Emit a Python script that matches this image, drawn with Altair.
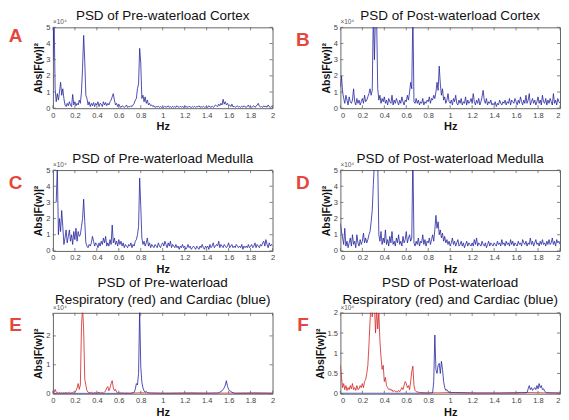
import altair as alt
import pandas as pd

# ---------------- data (PSD values in units of 1e4) ----------------
FREQ = [round(i * 0.01, 2) for i in range(201)]
XTICKS = [0, 0.2, 0.4, 0.6, 0.8, 1.0, 1.2, 1.4, 1.6, 1.8, 2.0]
YTICKS_5 = [0, 1, 2, 3, 4, 5]
YTICKS_E = [0, 1, 2]
YTICKS_F = [0, 0.5, 1, 1.5, 2]

PRE_CORTEX = [
    3.0, 6.0, 1.2, 0.4, 0.9, 0.5, 1.0, 1.6, 0.8, 1.2,
    0.6, 0.2, 0.1, 0.3, 0.15, 0.4, 0.2, 0.1, 0.85, 0.2,
    0.4, 0.15, 0.3, 0.2, 0.5, 0.3, 1.0, 2.5, 4.5, 2.9,
    0.8, 0.6, 0.2, 0.4, 0.1, 0.3, 0.15, 0.35, 0.1, 0.3,
    0.2, 0.4, 0.1, 0.3, 0.25, 0.1, 0.4, 0.2, 0.35, 0.15,
    0.3, 0.2, 0.4, 0.5, 0.7, 0.9, 0.5, 0.2, 0.3, 0.1,
    0.25, 0.1, 0.05, 0.15, 0.1, 0.05, 0.1, 0.2, 0.05, 0.1,
    0.08, 0.15, 0.1, 0.2, 0.3, 0.5, 0.6, 1.2, 1.5, 3.7,
    2.8, 0.6, 0.8, 0.4, 0.7, 0.3, 0.5, 0.2, 0.3, 0.15,
    0.2, 0.1, 0.15, 0.05, 0.1, 0.08, 0.12, 0.05, 0.1, 0.06,
    0.1, 0.05, 0.12, 0.06, 0.08, 0.15, 0.05, 0.1, 0.04, 0.12,
    0.06, 0.1, 0.05, 0.15, 0.08, 0.05, 0.12, 0.06, 0.1, 0.05,
    0.15, 0.06, 0.1, 0.05, 0.12, 0.08, 0.04, 0.1, 0.06, 0.12,
    0.05, 0.1, 0.08, 0.15, 0.05, 0.1, 0.06, 0.12, 0.05, 0.08,
    0.1, 0.05, 0.15, 0.08, 0.06, 0.12, 0.05, 0.1, 0.2, 0.15,
    0.1, 0.25, 0.15, 0.3, 0.2, 0.55, 0.25, 0.4, 0.2, 0.3,
    0.15, 0.2, 0.1, 0.25, 0.08, 0.12, 0.05, 0.1, 0.15, 0.06,
    0.1, 0.05, 0.12, 0.06, 0.15, 0.08, 0.05, 0.1, 0.2, 0.06,
    0.12, 0.05, 0.1, 0.15, 0.06, 0.1, 0.2, 0.3, 0.12, 0.08,
    0.1, 0.05, 0.15, 0.08, 0.12, 0.06, 0.2, 0.1, 0.05, 0.12,
    0.08,
]

POST_CORTEX = [
    1.3, 2.0, 1.0, 0.6, 0.3, 0.8, 0.5, 0.2, 0.7, 0.4,
    0.3, 0.5, 1.2, 0.4, 0.2, 0.6, 0.3, 0.5, 0.2, 0.4,
    0.6, 0.3, 0.8, 0.4, 0.5, 0.7, 0.9, 1.2, 0.8, 1.1,
    6.0, 3.0, 6.0, 5.5, 1.2, 0.5, 0.8, 0.3, 0.6, 0.4,
    0.7, 0.3, 0.5, 0.2, 0.6, 0.4, 0.3, 0.8, 0.2, 0.5,
    0.3, 0.6, 0.4, 0.2, 0.5, 0.3, 0.7, 0.4, 0.2, 0.5,
    0.4, 0.8, 0.5, 1.0, 1.6, 1.2, 6.0, 0.4, 0.3, 0.6,
    0.3, 0.5, 0.2, 0.4, 0.3, 0.6, 0.2, 0.4, 0.3, 0.5,
    0.4, 0.7, 0.3, 0.6, 0.5, 0.8, 0.6, 1.0, 1.6, 1.1,
    2.6, 1.5, 0.8, 1.2, 0.5, 0.7, 0.3, 0.5, 0.9, 0.4,
    0.3, 0.5, 0.2, 0.6, 0.4, 0.8, 0.3, 0.2, 0.5, 0.3,
    0.6, 0.2, 0.4, 0.3, 0.7, 0.2, 0.5, 0.3, 0.4, 0.6,
    0.3, 0.9, 0.4, 0.2, 0.5, 0.3, 0.6, 0.2, 0.4, 0.7,
    1.1, 0.5, 0.3, 0.6, 0.2, 0.4, 0.3, 0.5, 0.2, 0.3,
    0.2, 0.4, 0.1, 0.3, 0.2, 0.5, 0.3, 0.2, 0.4, 0.3,
    0.5, 0.2, 0.4, 0.3, 0.6, 0.2, 0.5, 0.4, 0.3, 0.6,
    0.4, 0.2, 0.5, 0.3, 0.7, 0.4, 0.2, 0.5, 0.3, 0.8,
    0.3, 0.5, 0.9, 0.2, 0.4, 0.6, 0.3, 0.5, 0.2, 0.4,
    0.7, 0.3, 0.5, 0.2, 0.8, 0.4, 0.3, 0.6, 0.2, 0.5,
    0.3, 0.6, 0.4, 0.2, 0.9, 0.3, 0.5, 0.2, 0.6, 0.4,
    0.3,
]

PRE_MEDULLA = [
    None, None, None, 3.0, 5.2, 1.0, 2.0, 1.2, 2.5, 1.5,
    0.4, 0.8, 1.3, 0.5, 0.9, 1.3, 0.6, 1.0, 0.4, 1.2,
    0.7, 1.4, 0.6, 1.2, 0.9, 1.0, 1.5, 2.0, 3.2, 1.8,
    0.5, 0.3, 0.2, 0.4, 0.3, 0.5, 0.9, 0.6, 0.3, 0.5,
    0.4, 0.2, 0.5, 0.3, 0.6, 0.4, 0.8, 0.5, 0.9, 0.3,
    0.5, 0.3, 0.7, 0.4, 1.6, 0.5, 0.8, 0.4, 0.6, 0.3,
    0.7, 0.4, 0.6, 0.3, 0.5, 0.2, 0.4, 0.3, 0.2, 0.4,
    0.3, 0.5, 0.2, 0.4, 0.3, 0.6, 0.7, 1.0, 1.5, 4.5,
    2.8, 0.8, 0.4, 0.6, 0.3, 0.5, 0.8, 0.3, 0.5, 0.2,
    0.4, 0.3, 0.2, 0.4, 0.3, 0.2, 0.5, 0.3, 0.2, 0.4,
    0.5, 0.3, 0.6, 0.4, 0.2, 0.5, 0.3, 0.6, 0.2, 0.4,
    0.3, 0.2, 0.4, 0.2, 0.3, 0.1, 0.3, 0.2, 0.4, 0.2,
    0.3, 0.1, 0.2, 0.4, 0.2, 0.3, 0.1, 0.2, 0.3, 0.2,
    0.1, 0.3, 0.2, 0.1, 0.3, 0.2, 0.4, 0.2, 0.1, 0.3,
    0.2, 0.3, 0.1, 0.4, 0.2, 0.3, 0.5, 0.2, 0.3, 0.4,
    0.3, 0.6, 0.2, 0.4, 0.3, 0.2, 0.4, 0.3, 0.2, 0.3,
    0.5, 0.2, 0.3, 0.4, 0.2, 0.3, 0.2, 0.4, 0.3, 0.2,
    0.3, 0.2, 0.4, 0.1, 0.3, 0.2, 0.3, 0.2, 0.4, 0.2,
    0.3, 0.4, 0.2, 0.3, 0.5, 0.2, 0.4, 0.3, 0.2, 0.4,
    0.3, 0.5, 0.6, 0.3, 0.7, 0.4, 0.2, 0.5, 0.3, 0.4,
    0.3,
]

POST_MEDULLA = [
    1.7, 1.2, 0.8, 0.4, 1.4, 0.3, 0.6, 0.2, 0.5, 0.8,
    0.3, 1.0, 0.4, 0.6, 0.2, 1.0, 0.5, 0.3, 0.7, 0.4,
    0.6, 1.1, 0.5, 0.8, 0.5, 0.7, 1.0, 1.2, 1.8, 2.5,
    4.1, 5.5, 6.0, 6.0, 5.5, 1.0, 0.6, 1.2, 0.4, 0.8,
    0.5, 1.3, 0.4, 0.7, 0.3, 0.9, 0.5, 1.2, 0.4, 0.6,
    0.3, 0.8, 0.5, 1.0, 0.4, 0.6, 0.3, 0.9, 0.5, 0.7,
    1.2, 0.5, 0.8, 1.0, 0.6, 0.8, 6.0, 0.5, 0.3, 0.6,
    0.4, 0.8, 0.3, 0.6, 0.5, 1.0, 0.4, 0.7, 0.3, 0.6,
    0.5, 0.8, 0.4, 0.7, 1.0, 0.6, 1.3, 2.2, 1.4, 1.8,
    1.0, 1.3, 0.8, 1.1, 0.6, 0.9, 0.5, 0.7, 0.4, 0.6,
    0.3, 0.5, 0.8, 0.4, 0.6, 0.3, 0.5, 0.7, 0.3, 0.4,
    0.6, 0.3, 0.5, 0.2, 0.4, 0.6, 0.3, 0.5, 0.4, 0.3,
    0.5, 0.3, 0.7, 0.4, 0.8, 0.3, 0.5, 0.4, 0.3, 0.6,
    0.4, 0.3, 0.5, 0.2, 0.4, 0.6, 0.3, 0.5, 0.4, 0.3,
    0.5, 0.4, 0.3, 0.6, 0.4, 0.5, 0.3, 0.7, 0.4, 0.5,
    0.3, 0.6, 0.4, 0.5, 0.3, 0.7, 0.4, 0.6, 0.3, 0.5,
    0.4, 0.3, 0.6, 0.4, 0.5, 0.3, 0.7, 0.5, 0.4, 0.6,
    0.3, 0.5, 0.4, 0.8, 0.4, 0.6, 0.3, 0.5, 0.7, 0.4,
    0.5, 0.3, 0.6, 0.4, 0.7, 0.4, 0.5, 0.3, 0.6, 0.4,
    0.7, 0.4, 0.5, 0.8, 0.4, 0.6, 0.3, 0.7, 0.5, 0.6,
    0.4,
]

# Pre-waterload respiratory (red) and cardiac (blue)
PRE_RESP_F = FREQ[:70] + [0.72, 0.80, 0.90, 1.05, 1.25, 1.45, 1.65, 1.85, 2.0]
PRE_RESP = [
    0.05, 0.03, 0.15, 0.05, 0.03, 0.02, 0.04, 0.02, 0.03, 0.02,
    0.03, 0.02, 0.04, 0.02, 0.03, 0.05, 0.02, 0.03, 0.04, 0.06,
    0.05, 0.1, 0.2, 0.35, 0.15, 0.3, 2.3, 3.0, 2.2, 0.5,
    0.3, 0.1, 0.05, 0.04, 0.03, 0.05, 0.03, 0.02, 0.04, 0.03,
    0.02, 0.03, 0.05, 0.02, 0.03, 0.04, 0.02, 0.05, 0.1, 0.2,
    0.25, 0.1, 0.2, 0.35, 0.45, 0.2, 0.1, 0.15, 0.05, 0.03,
    0.04, 0.02, 0.03, 0.02, 0.03, 0.02, 0.02, 0.03, 0.02, 0.02,
    0.02, 0.03, 0.02, 0.02, 0.03, 0.02, 0.02, 0.03, 0.02,
]
PRE_CARD_F = [
    0.0, 0.3, 0.6,
    0.70, 0.71, 0.72, 0.73, 0.74, 0.75, 0.76, 0.77, 0.78, 0.79,
    0.80, 0.81, 0.82, 0.83, 0.84, 0.85, 0.86, 0.87, 0.88, 0.89,
    1.0, 1.2, 1.4,
    1.48, 1.49, 1.50, 1.51, 1.52, 1.53, 1.54, 1.55, 1.56, 1.57,
    1.58, 1.59, 1.60, 1.61, 1.62, 1.63, 1.64, 1.65, 1.66,
    1.8, 2.0,
]
PRE_CARD = [
    0.01, 0.01, 0.01,
    0.01, 0.01, 0.02, 0.03, 0.05, 0.15, 0.35, 0.3, 0.7, 2.9,
    0.95, 0.4, 0.2, 0.1, 0.05, 0.08, 0.04, 0.03, 0.02, 0.02,
    0.01, 0.01, 0.01,
    0.02, 0.02, 0.02, 0.03, 0.05, 0.08, 0.1, 0.15, 0.2, 0.3,
    0.45, 0.25, 0.15, 0.1, 0.08, 0.05, 0.03, 0.02, 0.01,
    0.01, 0.01,
]

# Post-waterload respiratory (red) and cardiac (blue)
POST_RESP_F = FREQ[:70] + [0.72, 0.80, 0.90, 1.05, 1.25, 1.45, 1.65, 1.85, 2.0]
POST_RESP = [
    0.7, 0.4, 0.15, 0.25, 0.1, 0.2, 0.08, 0.15, 0.1, 0.2,
    0.12, 0.25, 0.1, 0.15, 0.08, 0.2, 0.1, 0.12, 0.2, 0.15,
    0.25, 0.15, 0.3, 0.35, 0.5, 0.7, 1.2, 1.8, 2.3, 1.9,
    2.3, 2.2, 1.5, 2.1, 1.6, 2.0, 1.3, 0.9, 0.6, 0.7,
    0.3, 0.4, 0.2, 0.15, 0.1, 0.12, 0.08, 0.1, 0.05, 0.08,
    0.05, 0.06, 0.04, 0.08, 0.05, 0.1, 0.15, 0.1, 0.2, 0.3,
    0.25, 0.15, 0.2, 0.1, 0.3, 0.55, 0.68, 0.2, 0.08, 0.05,
    0.03, 0.02, 0.02, 0.03, 0.02, 0.02, 0.03, 0.02, 0.02,
]
POST_CARD_F = [
    0.0, 0.4, 0.8,
    0.84, 0.85, 0.86, 0.87, 0.88, 0.89, 0.90, 0.91, 0.92, 0.93,
    0.94, 0.95, 0.96, 0.97, 0.98, 0.99, 1.00,
    1.2, 1.4, 1.6,
    1.69, 1.70, 1.71, 1.72, 1.73, 1.74, 1.75, 1.76, 1.77, 1.78,
    1.79, 1.80, 1.81, 1.82, 1.83, 1.84, 1.85, 1.86, 1.87, 1.88,
    2.0,
]
POST_CARD = [
    0.01, 0.01, 0.01,
    0.02, 0.3, 1.45, 0.6, 0.5, 0.7, 0.75, 0.5, 0.8, 0.6,
    0.3, 0.15, 0.08, 0.1, 0.05, 0.04, 0.02,
    0.01, 0.01, 0.01,
    0.02, 0.03, 0.12, 0.2, 0.1, 0.15, 0.08, 0.12, 0.15, 0.1,
    0.2, 0.12, 0.25, 0.15, 0.2, 0.1, 0.12, 0.06, 0.04, 0.02,
    0.01,
]

# ---------------- styling ----------------
W, H = 220, 81
BLUE = "#2424a0"
RED = "#d42222"
LETTER_RED = "#e5473d"
FRAME = "#666666"
FONT = "Liberation Sans"


def panel(series, title, letter, ymax, yticks, letter_xy, title_offset, flush_x):
    xenc = alt.X(
        "f:Q",
        scale=alt.Scale(domain=[0, 2], nice=False, zero=False),
        axis=alt.Axis(values=XTICKS, format=".1~f", title="Hz", ticks=False,
                      domain=False, grid=False, labelFontSize=7.5,
                      labelColor="#444", labelPadding=3, labelFont=FONT,
                      titleFont=FONT, titleFontSize=11, titleFontWeight="bold",
                      titleColor="#111", titlePadding=2, labelFlush=flush_x),
    )
    yenc = alt.Y(
        "p:Q",
        scale=alt.Scale(domain=[0, ymax], nice=False, zero=True),
        axis=alt.Axis(values=yticks, format=".1~f", title="Abs|F(w)|²",
                      ticks=False, domain=False, grid=False, labelFontSize=7.5,
                      labelColor="#444", labelPadding=3, labelFont=FONT,
                      titleFont=FONT, titleFontSize=10.5, titleFontWeight="bold",
                      titleColor="#111", titlePadding=2, labelFlush=False),
    )
    layers = []
    for fr, vals, col in series:
        df = pd.DataFrame({"f": fr, "p": vals})
        layers.append(
            alt.Chart(df).mark_line(color=col, strokeWidth=0.8, clip=True)
            .encode(x=xenc, y=yenc)
        )
    xt = pd.DataFrame({"f": XTICKS})
    yt = pd.DataFrame({"p": yticks})
    layers.append(alt.Chart(xt).mark_rule(color=FRAME, strokeWidth=0.8)
                  .encode(x=xenc, y=alt.value(H), y2=alt.value(H - 3)))
    layers.append(alt.Chart(xt).mark_rule(color=FRAME, strokeWidth=0.8)
                  .encode(x=xenc, y=alt.value(0), y2=alt.value(3)))
    layers.append(alt.Chart(yt).mark_rule(color=FRAME, strokeWidth=0.8)
                  .encode(y=yenc, x=alt.value(0), x2=alt.value(3)))
    layers.append(alt.Chart(yt).mark_rule(color=FRAME, strokeWidth=0.8)
                  .encode(y=yenc, x=alt.value(W), x2=alt.value(W - 3)))
    layers.append(
        alt.Chart(pd.DataFrame({"t": [letter]}))
        .mark_text(font=FONT, fontSize=19, fontWeight="bold", color=LETTER_RED,
                   align="center", baseline="middle")
        .encode(text="t:N", x=alt.value(letter_xy[0]), y=alt.value(letter_xy[1]))
    )
    layers.append(
        alt.Chart(pd.DataFrame({"t": ["×10⁴"]}))
        .mark_text(font=FONT, fontSize=6.5, color="#555", align="left",
                   baseline="alphabetic")
        .encode(text="t:N", x=alt.value(0), y=alt.value(-3))
    )
    tp = dict(font=FONT, fontSize=13.5, fontWeight="normal", color="#111",
              anchor="middle", offset=title_offset, frame="group")
    if isinstance(title, list):
        tp["lineHeight"] = 17
    return alt.layer(*layers).properties(
        width=W, height=H, title=alt.TitleParams(title, **tp),
    )


pA = panel([(FREQ, PRE_CORTEX, BLUE)], "PSD of Pre-waterload Cortex", "A", 5, YTICKS_5, (-37.5, 9), -3, False)
pB = panel([(FREQ, POST_CORTEX, BLUE)], "PSD of Post-waterload Cortex", "B", 5, YTICKS_5, (-37.5, 13), -3, True)
pC = panel([(FREQ, PRE_MEDULLA, BLUE)], "PSD of Pre-waterload Medulla", "C", 5, YTICKS_5, (-37.5, 13), -3, False)
pD = panel([(FREQ, POST_MEDULLA, BLUE)], "PSD of Post-waterload Medulla", "D", 5, YTICKS_5, (-37.5, 13), -3, True)
pE = panel([(PRE_RESP_F, PRE_RESP, RED), (PRE_CARD_F, PRE_CARD, BLUE)],
           ["PSD of Pre-waterload", "Respiratory (red) and Cardiac (blue)"], "E", 2.8, YTICKS_E, (-37.5, 12), -2, False)
pF = panel([(POST_RESP_F, POST_RESP, RED), (POST_CARD_F, POST_CARD, BLUE)],
           ["PSD of Post-waterload", "Respiratory (red) and Cardiac (blue)"], "F", 2, YTICKS_F, (-37.5, 12), -2, True)

chart = (
    alt.concat(pA, pB, pC, pD, pE, pF, columns=2,
               spacing={"row": 62, "column": 68}, bounds="flush")
    .properties(padding=0, background="white")
    .configure_view(stroke=FRAME, strokeWidth=1)
)

chart.save("out.html", embed_options={"renderer": "svg", "actions": False})
